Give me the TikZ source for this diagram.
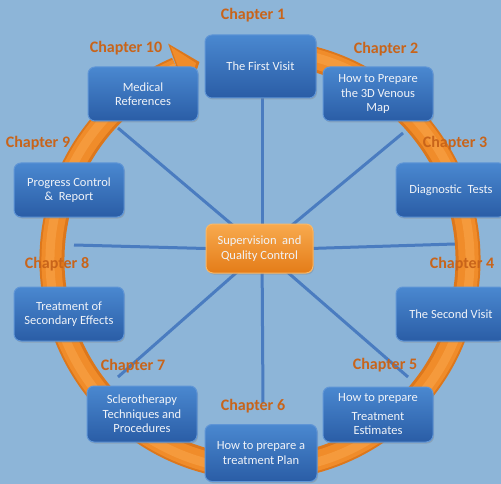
\documentclass[tikz,border=0pt]{standalone}
\usepackage{fontspec}
\setmainfont{Carlito}
\usetikzlibrary{shadows}
\definecolor{bg}{HTML}{8DB5D8}
\definecolor{boxtop}{HTML}{4A88D0}
\definecolor{boxbot}{HTML}{2A5DA6}
\definecolor{boxedge}{HTML}{5F95D6}
\definecolor{boxtext}{HTML}{F0F3F8}
\definecolor{chapcol}{HTML}{C8641A}
\definecolor{spokecol}{HTML}{4A7CC0}
\definecolor{ringdark}{HTML}{DC771C}
\definecolor{ringmid}{HTML}{F08C2A}
\definecolor{ringlight}{HTML}{F59A3C}
\definecolor{hubtop}{HTML}{F8AA4E}
\definecolor{hubbot}{HTML}{E47C18}
\definecolor{hubedge}{HTML}{F9B868}
\begin{document}
\begin{tikzpicture}[x=1pt,y=-1pt,
  chapbox/.style={rounded corners=7pt, top color=boxtop, bottom color=boxbot,
    draw=boxedge, line width=1pt, text=boxtext,
    font=\fontsize{12.5}{14.5}\selectfont, align=center,
    minimum width=110pt, minimum height=54pt, inner sep=2pt,
    drop shadow={shadow xshift=1pt, shadow yshift=-1.5pt, opacity=0.35}},
  hubbox/.style={rounded corners=7pt, top color=hubtop, bottom color=hubbot,
    draw=hubedge, line width=1pt, text=boxtext,
    font=\fontsize{12.5}{15}\selectfont, align=center,
    minimum width=107pt, minimum height=49pt, inner sep=2pt,
    drop shadow={shadow xshift=1pt, shadow yshift=-1.5pt, opacity=0.35}},
  chaplabel/.style={text=chapcol, font=\fontsize{16}{17}\selectfont\bfseries},
  spoke/.style={draw=spokecol, line width=3pt}]
\useasboundingbox (0,0) rectangle (501,484);
\clip (0,0) rectangle (501,484);
\fill[bg] (0,0) rectangle (501,484);

% spokes
\coordinate (hub) at (262,250);
\coordinate (sN) at (262,98);
\coordinate (sS) at (263,403);
\coordinate (sW) at (74,245);
\coordinate (sE) at (455,244);
\coordinate (sNW) at (118,128);
\coordinate (sNE) at (403,133);
\coordinate (sSW) at (118,377);
\coordinate (sSE) at (408,377);
\foreach \e in {sN,sS,sW,sE,sNW,sNE,sSW,sSE}
  \draw[spoke] (hub) -- (\e);

% ring
\coordinate (rc) at (260,260);
\draw[ringdark, line width=25pt] (rc) ++(-78:208) arc[start angle=-78, end angle=246.5, radius=208];
\draw[ringmid, line width=20pt] (rc) ++(-78:208.5) arc[start angle=-78, end angle=246.5, radius=208.5];
\draw[ringlight, line width=9pt] (rc) ++(-78:210) arc[start angle=-78, end angle=246.5, radius=210];
\fill[ringdark] ([shift={(-107:207)}]rc) -- ([shift={(-113:235)}]rc) -- ([shift={(-114:178)}]rc) -- cycle;
\fill[ringmid] ([shift={(-108:207)}]rc) -- ([shift={(-112.7:231)}]rc) -- ([shift={(-113.5:182)}]rc) -- cycle;

% boxes
\node[chapbox, minimum width=111pt, minimum height=63pt] (c1) at (260.5,66.5) {The First Visit};
\node[chapbox] (c2) at (378,94) {How to Prepare\\the 3D Venous\\Map};
\node[chapbox] (c3) at (451,190) {Diagnostic\ \ Tests};
\node[chapbox] (c4) at (451,314) {The Second Visit};
\node[chapbox, minimum height=55pt] (c5) at (378,414.5) {How to prepare\\[4pt]Treatment\\Estimates};
\node[chapbox, minimum width=112pt, minimum height=57pt] (c6) at (261,453) {How to prepare a\\treatment Plan};
\node[chapbox, minimum height=56pt] (c7) at (142,414) {Sclerotherapy\\Techniques\ and\\Procedures};
\node[chapbox] (c8) at (69,314) {Treatment of\\Secondary Effects};
\node[chapbox] (c9) at (69,190) {Progress Control\\\&\ \ Report};
\node[chapbox] (c10) at (143,94) {Medical\\References};
\node[hubbox] (hubnode) at (259.5,248.5) {Supervision\ \ and\\Quality Control};

% chapter labels
\node[chaplabel] (l1) at (253,15) {Chapter 1};
\node[chaplabel] (l2) at (386,49) {Chapter 2};
\node[chaplabel] (l3) at (455,143) {Chapter 3};
\node[chaplabel] (l4) at (462,264) {Chapter 4};
\node[chaplabel] (l5) at (385,365) {Chapter 5};
\node[chaplabel] (l6) at (253,406) {Chapter 6};
\node[chaplabel] (l7) at (133,366) {Chapter 7};
\node[chaplabel] (l8) at (57,264) {Chapter 8};
\node[chaplabel] (l9) at (38,143) {Chapter 9};
\node[chaplabel] (l10) at (126,48) {Chapter 10};
\end{tikzpicture}
\end{document}
